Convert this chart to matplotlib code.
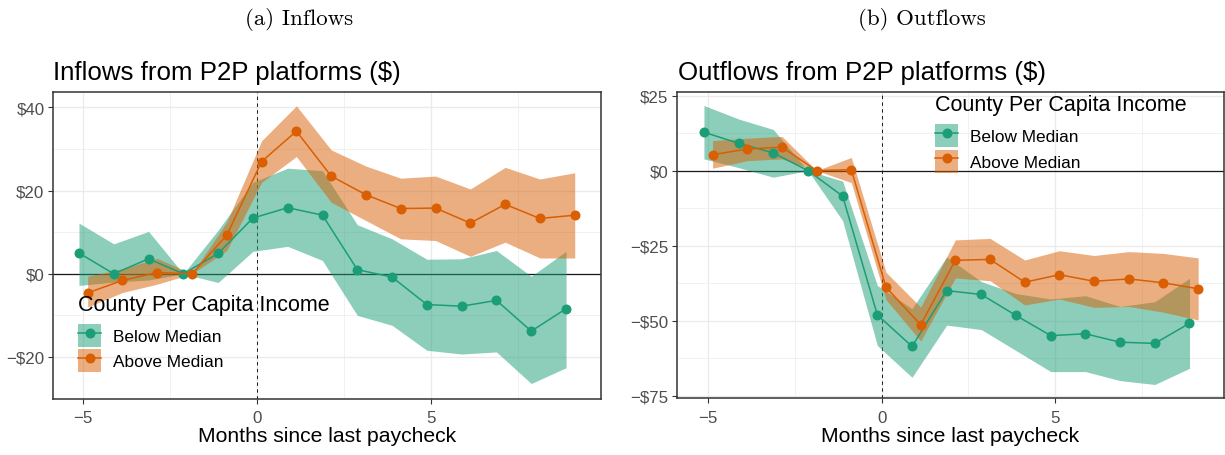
import matplotlib
matplotlib.use("Agg")
import matplotlib.pyplot as plt
from matplotlib.patches import Patch
from matplotlib.lines import Line2D
from matplotlib.ticker import FixedLocator, FuncFormatter
import numpy as np

plt.rcParams['font.family'] = ['Liberation Sans', 'DejaVu Sans']

# ---------------- data ----------------
months = [-5, -4, -3, -2, -1, 0, 1, 2, 3, 4, 5, 6, 7, 8, 9]
group_labels = ["Below Median", "Above Median"]

# Inflows
below_in = [5.0, 0.0, 3.6, 0.0, 4.9, 13.4, 15.9, 14.1, 1.0, -0.8, -7.4, -7.8, -6.4, -13.8, -8.4]
below_in_lo = [-2.8, -2.0, -1.5, 0.0, -2.1, 5.4, 6.6, 3.2, -10.0, -12.4, -18.4, -19.3, -18.8, -26.4, -22.6]
below_in_hi = [12.2, 7.2, 10.2, 0.0, 10.5, 22.0, 25.4, 24.8, 11.8, 8.4, 3.5, 3.6, 5.6, -0.6, 5.4]
above_in = [-4.6, -1.6, 0.3, 0.0, 9.3, 27.0, 34.3, 23.5, 19.0, 15.7, 15.8, 12.2, 16.7, 13.3, 14.1]
above_in_lo = [-8.0, -4.5, -2.5, 0.0, 5.6, 22.0, 28.2, 17.2, 12.8, 8.4, 8.0, 4.2, 7.6, 3.8, 3.8]
above_in_hi = [-0.6, 1.2, 3.7, 0.0, 12.5, 32.0, 40.4, 29.8, 25.9, 23.0, 23.5, 20.4, 25.6, 22.8, 24.3]

# Outflows
below_out = [12.8, 9.1, 5.9, 0.0, -8.5, -48.1, -58.6, -40.0, -41.3, -48.3, -55.0, -54.4, -57.2, -57.6, -50.9]
below_out_lo = [3.9, 1.0, -2.2, 0.0, -16.7, -58.3, -68.9, -51.5, -53.0, -60.0, -67.0, -67.0, -70.0, -71.3, -65.9]
below_out_hi = [21.7, 17.2, 13.7, 0.0, -3.5, -38.3, -46.0, -28.8, -37.0, -41.0, -42.8, -41.7, -45.3, -43.7, -35.9]
above_out = [5.3, 7.2, 7.8, 0.0, 0.3, -38.9, -51.4, -29.9, -29.6, -37.2, -34.7, -36.9, -36.1, -37.4, -39.4]
above_out_lo = [0.8, 3.3, 3.9, 0.0, -4.0, -43.0, -56.8, -35.8, -36.7, -44.8, -42.8, -45.6, -45.3, -47.2, -49.8]
above_out_hi = [10.0, 10.8, 11.4, 0.0, 4.4, -33.9, -45.5, -23.1, -22.6, -29.8, -26.7, -28.3, -27.0, -27.6, -29.1]

x_ticks = [-5, 0, 5]
in_yticks = [-20, 0, 20, 40]
out_yticks = [-75, -50, -25, 0, 25]

titles = ["Inflows from P2P platforms ($)", "Outflows from P2P platforms ($)"]
subtitles = ["(a) Inflows", "(b) Outflows"]
xlabel = "Months since last paycheck"
legend_title = "County Per Capita Income"

# ---------------- style ----------------
GREEN = "#1B9E77"
ORANGE = "#D95F02"
W, H = 1225, 456
DODGE = 0.125

fig = plt.figure(figsize=(W / 100, H / 100), dpi=100)


def fpos(l, t, r, b):
    return [l / W, 1 - b / H, (r - l) / W, (b - t) / H]


ax1 = fig.add_axes(fpos(52.7, 92.7, 601, 399.5))
ax2 = fig.add_axes(fpos(676.7, 92.7, 1224, 399.3))


def money(v, pos=None):
    v = int(round(v))
    if v < 0:
        return "\u2212$%d" % (-v)
    return "$%d" % v


def xfmt(v, pos=None):
    v = int(round(v))
    return ("\u2212%d" % (-v)) if v < 0 else "%d" % v


def draw(ax, series, yticks, yminor, ylim, xlim):
    m = np.array(months, dtype=float)
    ax.axhline(0, color="#1a1a1a", lw=0.9, zorder=1.5)
    ax.axvline(0, color="#1a1a1a", lw=0.7, ls=(0, (3.5, 3.5)), zorder=1.5)
    for (vals, lo, hi, col, off) in series:
        ax.fill_between(m + off, lo, hi, color=col, alpha=0.5, lw=0, zorder=2)
    for (vals, lo, hi, col, off) in series:
        ax.plot(m + off, vals, color=col, lw=1.1, marker="o", ms=7.2,
                markeredgewidth=0, zorder=3)
    ax.set_xlim(*xlim)
    ax.set_ylim(*ylim)
    ax.xaxis.set_major_locator(FixedLocator(x_ticks))
    ax.xaxis.set_minor_locator(FixedLocator([-2.5, 2.5, 7.5]))
    ax.yaxis.set_major_locator(FixedLocator(yticks))
    ax.yaxis.set_minor_locator(FixedLocator(yminor))
    ax.yaxis.set_major_formatter(FuncFormatter(money))
    ax.xaxis.set_major_formatter(FuncFormatter(xfmt))
    ax.grid(True, which="major", color="#EBEBEB", lw=1.0, zorder=0)
    ax.grid(True, which="minor", color="#EFEFEF", lw=0.6, zorder=0)
    ax.set_axisbelow(True)
    ax.tick_params(which="major", length=3.4, width=0.8, color="#333333",
                   labelsize=12.2, labelcolor="#4D4D4D", pad=2.5)
    ax.tick_params(axis="x", which="major", pad=5.0)
    ax.tick_params(which="minor", length=0)
    for s in ax.spines.values():
        s.set_color("#333333")
        s.set_linewidth(1.1)
    ax.set_xlabel(xlabel, fontsize=15.2, color="black", labelpad=0.5)


draw(ax1,
     [(below_in, below_in_lo, below_in_hi, GREEN, -DODGE),
      (above_in, above_in_lo, above_in_hi, ORANGE, DODGE)],
     in_yticks, [-10, 10, 30], (-30.0, 43.8), (-5.88, 9.88))
draw(ax2,
     [(below_out, below_out_lo, below_out_hi, GREEN, -DODGE),
      (above_out, above_out_lo, above_out_hi, ORANGE, DODGE)],
     out_yticks, [-62.5, -37.5, -12.5, 12.5], (-75.9, 26.3), (-5.91, 9.87))

# titles
fig.text(53 / W, 1 - 80 / H, titles[0], fontsize=18.6, ha="left", va="baseline")
fig.text(678 / W, 1 - 80 / H, titles[1], fontsize=18.6, ha="left", va="baseline")
fig.text(299.5 / W, 1 - 25 / H, subtitles[0], fontsize=16.5, family="cmr10",
         ha="center", va="baseline")
fig.text(922 / W, 1 - 25 / H, subtitles[1], fontsize=16.5, family="cmr10",
         ha="center", va="baseline")


def handles():
    hs = []
    for col in (GREEN, ORANGE):
        p = Patch(facecolor=col, alpha=0.5, edgecolor="none")
        l = Line2D([], [], color=col, lw=1.1, marker="o", ms=7.2, markeredgewidth=0)
        hs.append((p, l))
    return hs


def add_legend(ax, x_title, y_base, x_keys, y_keys):
    fig.text(x_title / W, 1 - y_base / H, legend_title, fontsize=15.5,
             ha="left", va="baseline", zorder=6)
    leg = ax.legend(handles(), group_labels,
                    loc="upper left", bbox_to_anchor=(x_keys / W, 1 - y_keys / H),
                    bbox_transform=fig.transFigure, frameon=False,
                    fontsize=12.4, borderpad=0,
                    borderaxespad=0, handlelength=1.34, handleheight=1.68,
                    handletextpad=0.68, labelspacing=0.13)
    leg.set_zorder(5)
    return leg


add_legend(ax1, 77.5, 310.7, 78.3, 325.0)
add_legend(ax2, 935.0, 110.7, 935.0, 125.3)

fig.savefig("out.png", dpi=100)
